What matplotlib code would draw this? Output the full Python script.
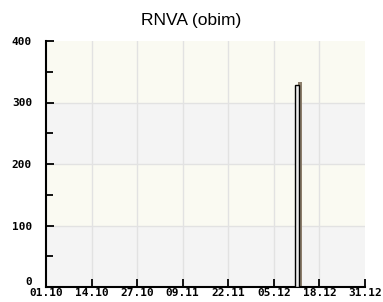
import matplotlib
matplotlib.use("Agg")
import matplotlib.pyplot as plt
import matplotlib.dates as mdates
import matplotlib.transforms as mtransforms
import numpy as np
import datetime as dt

# data
dates = [dt.date(2021, 12, 11)]
values = [328]
tick_dates = [dt.date(2021, 10, 1), dt.date(2021, 10, 14), dt.date(2021, 10, 27),
              dt.date(2021, 11, 9), dt.date(2021, 11, 22), dt.date(2021, 12, 5),
              dt.date(2021, 12, 18), dt.date(2021, 12, 31)]
tick_labels = ['01.10', '14.10', '27.10', '09.11', '22.11', '05.12', '18.12', '31.12']
y_ticks = [0, 100, 200, 300, 400]

fig = plt.figure(figsize=(3.83, 3.02), dpi=100)
ax = fig.add_axes([46/383, 1-287/302, (365-46)/383, (287-41)/302])

x0 = mdates.date2num(tick_dates[0])
x1 = mdates.date2num(tick_dates[-1])
ax.set_xlim(x0, x1)
ax.set_ylim(0, 400)

# background bands
for i in range(4):
    c = '#f4f4f4' if i % 2 == 0 else '#fafaf2'
    ax.axhspan(i*100, (i+1)*100, color=c, zorder=0, lw=0)
for yv in y_ticks[1:-1]:
    ax.axhline(yv, color='#e2e2e2', lw=1, zorder=1)
for td in tick_dates[1:-1]:
    ax.axvline(mdates.date2num(td), color='#e2e2e2', lw=1, zorder=1)

xd = mdates.date2num(dates)
# 3d shadow
ax.bar(xd + 0.9, np.array(values) + 5, width=1.0, align='edge', color='#8c7e6c',
       edgecolor='none', zorder=2)
ax.bar(xd, values, width=1.1, align='edge', color='#ececec', edgecolor='black',
       linewidth=1.0, zorder=3)

ax.spines['top'].set_visible(False)
ax.spines['right'].set_visible(False)
ax.spines['left'].set_linewidth(1.5)
ax.spines['bottom'].set_linewidth(1.5)

ax.set_xticks(mdates.date2num(tick_dates))
ax.set_xticklabels(tick_labels)
ax.set_yticks(y_ticks)
ax.set_yticks([50, 150, 250, 350], minor=True)
ax.tick_params(direction='in', length=6, width=1.3, labelsize=8)
ax.tick_params(axis='y', pad=10)
ax.tick_params(axis='x', pad=1)
ax.tick_params(axis='y', which='minor', direction='in', length=5, width=1.3)
for lab in ax.get_xticklabels() + ax.get_yticklabels():
    lab.set_family('DejaVu Sans Mono')
    lab.set_fontweight('bold')
# zero label sits above the date labels
zl = ax.get_yticklabels()[0]
zl.set_transform(zl.get_transform() + mtransforms.ScaledTranslation(0, 4/72, fig.dpi_scale_trans))

fig.text(0.5, 1 - 20/302, 'RNVA (obim)', fontsize=12.5, ha='center', va='center',
         family='Liberation Sans')

fig.savefig('out.png', dpi=100)
